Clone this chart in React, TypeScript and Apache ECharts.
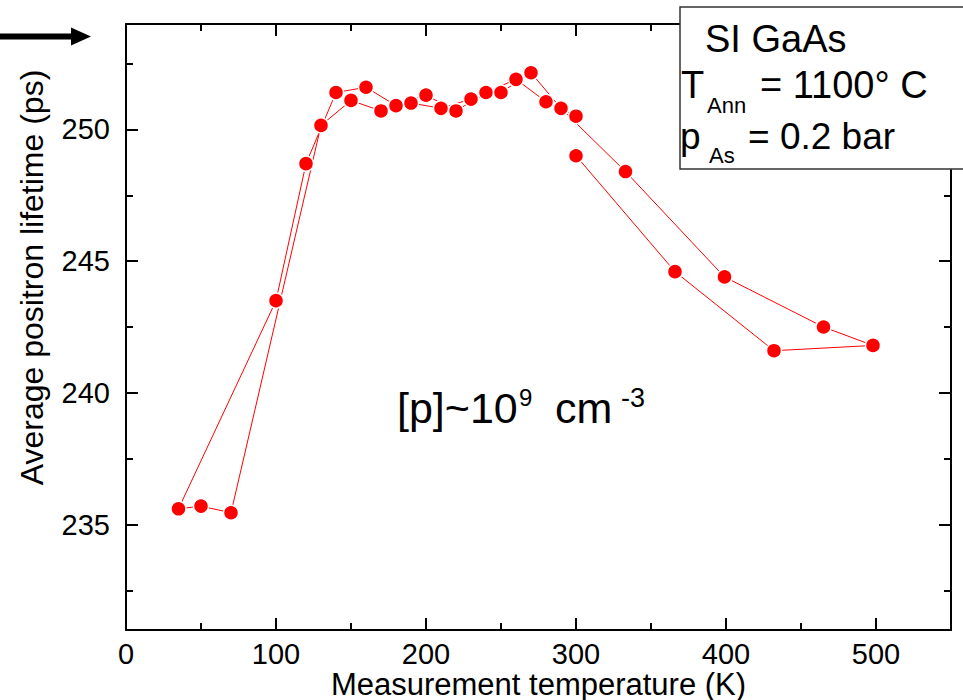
import React, { useEffect, useRef } from 'react';
import * as echarts from 'echarts';

// Measurement sequence (K) and average positron lifetime (ps), in the order the points are joined
const temperatures = [300, 280, 260, 240, 220, 200, 180, 160, 140, 120, 100, 35, 50, 70, 130, 150, 170, 190, 210, 230, 250, 270, 290, 333, 399, 465, 498, 432, 366, 300];
const lifetimes = [250.5, 251.05, 251.9, 251.4, 250.7, 251.3, 250.9, 251.6, 251.4, 248.7, 243.5, 235.6, 235.7, 235.45, 250.15, 251.1, 250.7, 251.0, 250.8, 251.15, 251.4, 252.15, 250.8, 248.4, 244.4, 242.5, 241.8, 241.6, 244.6, 249.0];

const xMin = 0;
const xMax = 550;
const yMin = 231;
const yMax = 254;
const xMajorTicks = [0, 100, 200, 300, 400, 500];
const xMinorTicks = [50, 150, 250, 350, 450];
const yMajorTicks = [235, 240, 245, 250];
const yMinorTicks = [232.5, 237.5, 242.5, 247.5, 252.5];

const FONT = '"Liberation Sans", Arial, sans-serif';

function makeAxis(kind: 'x' | 'y', position: string, ticks: number[], len: number, withLabels: boolean, withLine: boolean) {
  return {
    type: 'value',
    position,
    min: kind === 'x' ? xMin : yMin,
    max: kind === 'x' ? xMax : yMax,
    gridIndex: 0,
    axisLine: { show: withLine, onZero: false, lineStyle: { color: '#000', width: 2 } },
    splitLine: { show: false },
    minorTick: { show: false },
    axisTick: { show: true, inside: true, length: len, customValues: ticks, lineStyle: { color: '#000', width: 2 } },
    axisLabel: withLabels
      ? { show: true, customValues: ticks, color: '#000', fontSize: 29, fontFamily: FONT, margin: kind === 'x' ? 9 : 16 }
      : { show: false },
  };
}

function txt(text: string, x: number, y: number, fontSize: number, extra: any = {}) {
  return {
    type: 'text',
    x,
    y,
    z: 101,
    ...extra,
    style: {
      text,
      fill: '#000',
      fontSize,
      fontFamily: FONT,
      align: extra.align || 'left',
      textAlign: extra.align || 'left',
      verticalAlign: 'middle',
      textVerticalAlign: 'middle',
    },
  };
}

export default function App() {
  const ref = useRef<HTMLDivElement>(null);
  useEffect(() => {
    document.body.style.margin = '0';
    const chart = echarts.init(ref.current!, null, { renderer: 'svg' });
    const data = temperatures.map((t, i) => [t, lifetimes[i]]);
    chart.setOption({
      animation: false,
      backgroundColor: '#fff',
      grid: { left: 126, top: 24, right: 12, bottom: 70, containLabel: false, outerBoundsMode: 'none' },
      xAxis: [
        makeAxis('x', 'bottom', xMajorTicks, 12, true, true),
        makeAxis('x', 'bottom', xMinorTicks, 7, false, false),
        makeAxis('x', 'top', xMajorTicks, 12, false, true),
        makeAxis('x', 'top', xMinorTicks, 7, false, false),
      ],
      yAxis: [
        makeAxis('y', 'left', yMajorTicks, 12, true, true),
        makeAxis('y', 'left', yMinorTicks, 7, false, false),
        makeAxis('y', 'right', yMajorTicks, 12, false, true),
        makeAxis('y', 'right', yMinorTicks, 7, false, false),
      ],
      series: [
        {
          type: 'line',
          xAxisIndex: 0,
          yAxisIndex: 0,
          data,
          symbol: 'circle',
          symbolSize: 15,
          lineStyle: { color: '#ff0000', width: 1 },
          itemStyle: { color: '#ff0000', borderColor: '#ffffff', borderWidth: 1.5 },
          z: 5,
        },
      ],
      graphic: [
        { type: 'line', z: 100, shape: { x1: 0, y1: 36.5, x2: 76, y2: 36.5 }, style: { stroke: '#000', lineWidth: 6 } },
        { type: 'polygon', z: 100, shape: { points: [[71, 27.5], [91, 36.5], [71, 45.5]] }, style: { fill: '#000' } },
        { type: 'rect', z: 100, shape: { x: 680, y: 7, width: 300, height: 162 }, style: { fill: '#fff', stroke: '#333', lineWidth: 1.5 } },
        txt('SI GaAs', 705, 39, 38),
        txt('T', 681, 85, 38),
        txt('Ann', 707, 105.5, 22),
        txt('= 1100° C', 760, 85, 38),
        txt('p', 680, 136, 37),
        txt('As', 709, 155.5, 22),
        txt('= 0.2 bar', 748, 136, 37),
        txt('[p]~10', 397, 407.5, 43),
        txt('9', 519, 397, 24),
        txt('cm', 555, 407.5, 43),
        txt('-3', 621, 397.5, 27),
        txt('Measurement temperature (K)', 538.5, 684, 31, { align: 'center' }),
        txt('Average positron lifetime (ps)', 31.5, 277.5, 32, { align: 'center', rotation: Math.PI / 2 }),
      ],
    });
    return () => chart.dispose();
  }, []);
  return <div ref={ref} style={{ width: 963, height: 700 }} />;
}
